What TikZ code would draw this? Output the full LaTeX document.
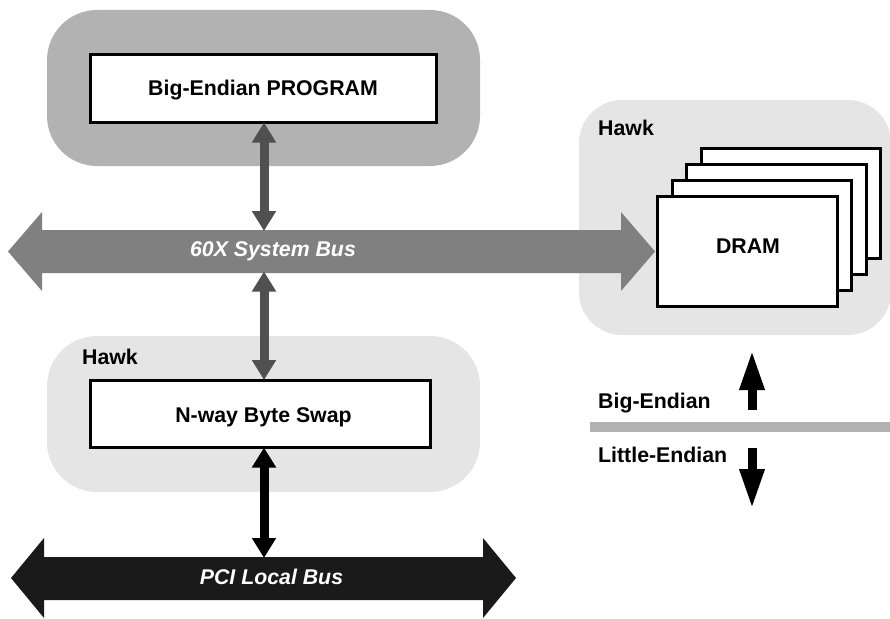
\documentclass[tikz,border=0pt]{standalone}
\usepackage{fontspec}
\setmainfont{Liberation Sans}
\usetikzlibrary{arrows.meta}
\definecolor{hawkgray}{HTML}{E5E5E5}
\definecolor{cpugray}{HTML}{B2B2B2}
\definecolor{busgray}{HTML}{808080}
\definecolor{linkgray}{HTML}{505050}
\definecolor{pciblack}{HTML}{1A1A1A}
\tikzset{
  lbl/.style={font=\fontsize{21.3}{24}\selectfont\bfseries, inner sep=0pt},
  buslbl/.style={font=\fontsize{21.3}{24}\selectfont\bfseries\itshape, text=white, inner sep=0pt},
  whitebox/.style={draw=black, fill=white, line width=3pt, inner sep=0pt},
  shaft/.style={inner sep=0pt, minimum width=#1, outer sep=0pt},
  dbl/.style={line width=9pt, shorten <=-1.5pt, shorten >=-1pt, {Triangle[length=20pt,width=23pt]}-{Triangle[length=20pt,width=23pt]}},
  single/.style={line width=9pt, -{Triangle[length=40pt,width=23pt]}},
}
\begin{document}
\begin{tikzpicture}[x=1pt,y=-1pt]
\useasboundingbox (0,0) rectangle (890,618);
% backgrounds
\fill[cpugray, rounded corners=50pt] (47,10) rectangle (480,166);
\fill[hawkgray, rounded corners=50pt] (47,336) rectangle (480,492);
\fill[hawkgray, rounded corners=43pt] (579,100) rectangle (891,335);
% buses
\fill[busgray] (8,251.5) -- (42,212) -- (42,230) -- (621,230) -- (621,212) -- (655,251.5) -- (621,291) -- (621,273) -- (42,273) -- (42,291) -- cycle;
\fill[pciblack] (11,578) -- (44,538) -- (44,557) -- (483,557) -- (483,538) -- (516,578) -- (483,618) -- (483,600) -- (44,600) -- (44,618) -- cycle;
\node[shaft=579pt, minimum height=43pt] (bus60) at (331.5,251.5) {};
\node[shaft=439pt, minimum height=43pt] (pci) at (263.5,578.5) {};
\node[buslbl, anchor=base] (bus60lbl) at (273,256) {60X System Bus};
\node[buslbl, anchor=base] (pcilbl) at (271.5,584) {PCI Local Bus};
% boxes
\node[whitebox, minimum width=346pt, minimum height=68pt] (prog) at (263,88.5) {};
\node[whitebox, minimum width=340pt, minimum height=67pt] (swap) at (260.5,414) {};
\node[whitebox, minimum width=179pt, minimum height=110pt] (d4) at (791,203.5) {};
\node[whitebox, minimum width=180pt, minimum height=110pt] (d3) at (776.5,219.5) {};
\node[whitebox, minimum width=179pt, minimum height=110pt] (d2) at (762,235.5) {};
\node[whitebox, minimum width=180pt, minimum height=110pt] (d1) at (747.5,251.5) {};
% labels
\node[lbl, anchor=base] (proglbl) at (263,95) {Big-Endian PROGRAM};
\node[lbl, anchor=base] (swaplbl) at (263.5,422) {N-way Byte Swap};
\node[lbl, anchor=base] (dramlbl) at (748,253) {DRAM};
\node[lbl, anchor=base west] (hawkA) at (82,364) {Hawk};
\node[lbl, anchor=base west] (hawkB) at (598,135) {Hawk};
\node[lbl, anchor=base west] (bigl) at (598,408) {Big-Endian};
\node[lbl, anchor=base west] (litl) at (598,462) {Little-Endian};
% connectors
\coordinate (ax) at (264,0);
\draw[dbl, linkgray] (ax |- prog.south) -- (ax |- bus60.north);
\draw[dbl, linkgray] (ax |- bus60.south) -- (ax |- swap.north);
\draw[dbl, black] (ax |- swap.south) -- (ax |- pci.north);
% endian divider and arrows
\node[fill=cpugray, inner sep=0pt, minimum width=300pt, minimum height=10pt] (divider) at (740,427) {};
\coordinate (upStart) at (752,410);
\coordinate (upEnd) at (752,350);
\coordinate (downStart) at (752,448);
\coordinate (downEnd) at (752,509);
\draw[single, black] (upStart) -- (upEnd);
\draw[single, black] (downStart) -- (downEnd);
\end{tikzpicture}
\end{document}
